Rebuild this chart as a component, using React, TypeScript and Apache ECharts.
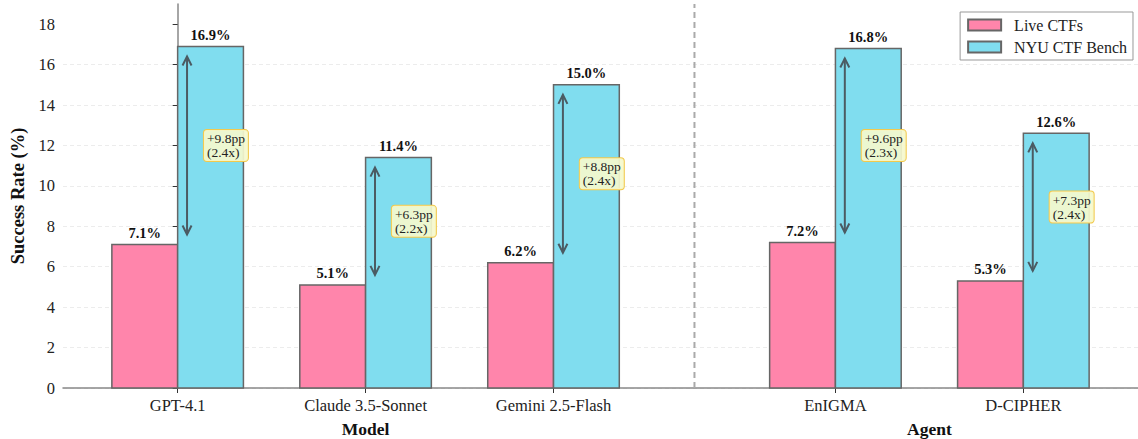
import React, { useEffect, useRef } from "react";
import * as echarts from "echarts";

const categories = ["GPT-4.1", "Claude 3.5-Sonnet", "Gemini 2.5-Flash", "EnIGMA", "D-CIPHER"];
const positions = [0, 1, 2, 3.5, 4.5];
const liveValues = [7.1, 5.1, 6.2, 7.2, 5.3];
const benchValues = [16.9, 11.4, 15.0, 16.8, 12.6];
const groupNames = ["Model", "Agent"];
const groupCenters = [1, 4];
const separatorX = 2.75;
const yTicks = [0, 2, 4, 6, 8, 10, 12, 14, 16, 18];

const FONT = "'Liberation Serif', 'Times New Roman', serif";
const PINK = "#ff85ab";
const CYAN = "#80ddef";
const EDGE = "#666666";
const ARROW = "#4b5b63";
const BAR_W = 0.35;

export default function App() {
  const ref = useRef<HTMLDivElement>(null);
  useEffect(() => {
    document.body.style.margin = "0";
    const chart = echarts.init(ref.current!, undefined, { renderer: "svg" });

    const barRender = (offset: number, color: string) => (params: any, api: any) => {
      const x = api.value(0) + offset;
      const v = api.value(1);
      const p0 = api.coord([x - BAR_W / 2, v]);
      const p1 = api.coord([x + BAR_W / 2, 0]);
      return {
        type: "group",
        children: [
          {
            type: "rect",
            shape: { x: p0[0], y: p0[1], width: p1[0] - p0[0], height: p1[1] - p0[1] },
            style: { fill: color, stroke: EDGE, lineWidth: 1.5 },
          },
          {
            type: "text",
            style: {
              text: v.toFixed(1) + "%",
              x: (p0[0] + p1[0]) / 2,
              y: p0[1] - 4,
              align: "center",
              verticalAlign: "bottom",
              font: "bold 14.5px " + FONT,
              fill: "#111",
            },
          },
        ],
      };
    };

    const arrowRender = (params: any, api: any) => {
      const pos = api.value(0);
      const lv = api.value(1);
      const bv = api.value(2);
      const ax = pos + 0.05;
      const pLow = api.coord([ax, lv]);
      const pHigh = api.coord([ax, bv]);
      const x = pLow[0];
      const yb = pLow[1] - 10;
      const yt = pHigh[1] + 10;
      const hl = 9;
      const hw = 4.5;
      const diff = (bv - lv).toFixed(1);
      const ratio = (bv / lv).toFixed(1);
      const mid = api.coord([pos + 0.14, (lv + bv) / 2]);
      return {
        type: "group",
        children: [
          { type: "line", shape: { x1: x, y1: yb, x2: x, y2: yt }, style: { stroke: ARROW, lineWidth: 2 } },
          {
            type: "polyline",
            shape: { points: [[x - hw, yt + hl], [x, yt], [x + hw, yt + hl]] },
            style: { stroke: ARROW, lineWidth: 2, fill: null },
          },
          {
            type: "polyline",
            shape: { points: [[x - hw, yb - hl], [x, yb], [x + hw, yb - hl]] },
            style: { stroke: ARROW, lineWidth: 2, fill: null },
          },
          {
            type: "text",
            style: {
              text: "+" + diff + "pp\n(" + ratio + "x)",
              x: mid[0],
              y: mid[1],
              align: "left",
              verticalAlign: "middle",
              font: "13.5px " + FONT,
              lineHeight: 14,
              fill: "#222",
              backgroundColor: "rgba(245,248,205,0.92)",
              borderColor: "#f2c94c",
              borderWidth: 1,
              borderRadius: 3,
              padding: [2, 3, 1, 3],
            },
          },
        ],
      };
    };

    const sepRender = (params: any, api: any) => {
      const p = api.coord([api.value(0), 0]);
      const top = params.coordSys.y;
      return {
        type: "line",
        shape: { x1: p[0], y1: p[1], x2: p[0], y2: top },
        style: { stroke: "#aaaaaa", lineWidth: 2, lineDash: [6, 4] },
      };
    };

    const groupRender = (params: any, api: any) => {
      const p = api.coord([api.value(0), 0]);
      return {
        type: "text",
        style: {
          text: groupNames[params.dataIndex],
          x: p[0],
          y: p[1] + 41,
          align: "center",
          verticalAlign: "middle",
          font: "bold 17.5px " + FONT,
          fill: "#111",
        },
      };
    };

    chart.setOption({
      animation: false,
      grid: { left: 62, right: 0, top: 4, bottom: 51, containLabel: false },
      legend: {
        orient: "vertical",
        right: 5,
        top: 12,
        data: ["Live CTFs", "NYU CTF Bench"],
        icon: "rect",
        itemWidth: 33,
        itemHeight: 11,
        itemGap: 6,
        padding: [5, 6, 5, 7],
        borderColor: "#999",
        borderWidth: 1,
        borderRadius: 0,
        backgroundColor: "#fff",
        textStyle: { fontFamily: FONT, fontSize: 16, color: "#222", padding: [0, 0, 0, 8] },
      },
      xAxis: {
        type: "value",
        min: -0.61,
        max: 5.11,
        splitLine: { show: false },
        axisLine: { show: true, lineStyle: { color: "#888", width: 1.5 } },
        axisTick: { show: true, customValues: positions, length: 5, lineStyle: { color: "#333" } },
        axisLabel: {
          customValues: positions,
          formatter: (v: number) => {
            const i = positions.findIndex((p) => Math.abs(p - v) < 1e-6);
            return i >= 0 ? categories[i] : "";
          },
          fontFamily: FONT,
          fontSize: 16.5,
          color: "#222",
          margin: 9,
        },
      },
      yAxis: {
        type: "value",
        min: 0,
        max: 19,
        interval: 2,
        name: "Success Rate (%)",
        nameLocation: "middle",
        nameGap: 36,
        nameTextStyle: { fontFamily: FONT, fontSize: 18.5, fontWeight: "bold", color: "#111" },
        axisLine: { show: true, lineStyle: { color: "#888", width: 1.5 } },
        axisTick: { show: true, customValues: yTicks, length: 5, lineStyle: { color: "#333" } },
        axisLabel: { customValues: yTicks, fontFamily: FONT, fontSize: 16.5, color: "#222", margin: 8 },
        splitLine: { show: true, showMaxLine: false, lineStyle: { color: "#ececec", type: [4, 3], width: 1 } },
      },
      series: [
        {
          type: "custom",
          name: "sep",
          renderItem: sepRender,
          data: [[separatorX, 0]],
          silent: true,
          z: 1,
        },
        {
          type: "custom",
          name: "Live CTFs",
          renderItem: barRender(-BAR_W / 2, PINK),
          itemStyle: { color: PINK, borderColor: EDGE, borderWidth: 1.5 },
          data: positions.map((p, i) => [p, liveValues[i]]),
          z: 2,
        },
        {
          type: "custom",
          name: "NYU CTF Bench",
          renderItem: barRender(BAR_W / 2, CYAN),
          itemStyle: { color: CYAN, borderColor: EDGE, borderWidth: 1.5 },
          data: positions.map((p, i) => [p, benchValues[i]]),
          z: 2,
        },
        {
          type: "custom",
          name: "arrows",
          renderItem: arrowRender,
          data: positions.map((p, i) => [p, liveValues[i], benchValues[i]]),
          z: 3,
        },
        {
          type: "custom",
          name: "groups",
          renderItem: groupRender,
          data: groupCenters.map((c) => [c, 0]),
          clip: false,
          z: 3,
        },
      ],
    });
    return () => chart.dispose();
  }, []);
  return <div ref={ref} style={{ width: 1138, height: 439 }} />;
}
